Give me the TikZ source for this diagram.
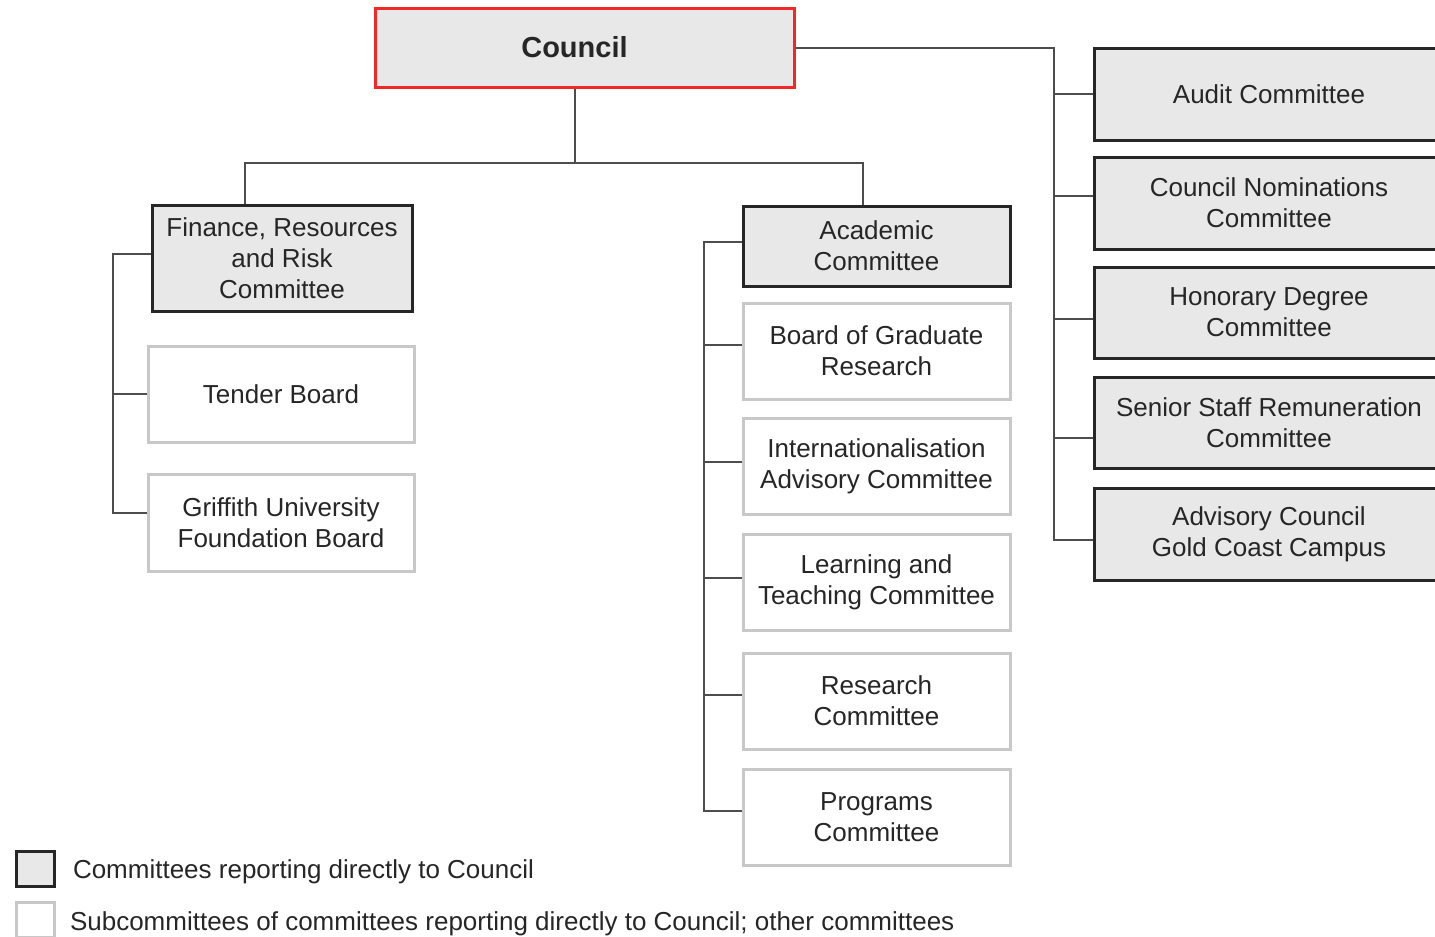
\documentclass[tikz,border=0pt]{standalone}
\usepackage{fontspec}
\setmainfont{Liberation Sans}
\definecolor{boxgray}{HTML}{E8E8E8}
\definecolor{councilred}{HTML}{F02828}
\definecolor{darkedge}{HTML}{262626}
\definecolor{lightedge}{HTML}{C8C8C8}
\definecolor{linegray}{HTML}{4D4D4D}
\begin{document}
\begin{tikzpicture}[x=1pt, y=-1pt, every node/.style = {shape=rectangle, align=center, text=black!85, font=\fontsize{26}{31}\selectfont}, line width=2pt]
	\tikzstyle{topbox} = [draw=councilred, fill=boxgray, line width=3pt, minimum width=419pt, minimum height=79pt, font=\fontsize{29}{34}\selectfont\bfseries]
	\tikzstyle{mainbox} = [draw=darkedge, fill=boxgray, line width=3pt]
	\tikzstyle{subbox} = [draw=lightedge, fill=white, line width=3pt, minimum width=266pt, minimum height=96pt]
	\tikzstyle{conn} = [draw=linegray, line width=2pt]
	\tikzstyle{keytext} = [anchor=west, inner sep=0pt]
	\useasboundingbox (0,0) rectangle (1435,937);
	\clip (0,0) rectangle (1435,937);
	\node[topbox] (council) at (584.5,47.5) {\hspace*{-20pt}Council};
	% left branch
	\node[mainbox, minimum width=260pt, minimum height=106pt] (fin) at (282,258) {Finance, Resources\\and Risk\\Committee};
	\node[subbox] (tender) at (281,394) {Tender Board};
	\node[subbox, minimum height=97pt] (grif) at (281,522.5) {Griffith University\\Foundation Board};
	% middle branch
	\node[mainbox, minimum width=267pt, minimum height=80pt] (acad) at (876.5,246) {Academic\\Committee};
	\node[subbox, minimum width=267pt] (grad) at (876.5,351) {Board of Graduate\\Research};
	\node[subbox, minimum width=267pt] (intl) at (876.5,466) {Internationalisation\\Advisory Committee};
	\node[subbox, minimum width=267pt] (learn) at (876.5,582) {Learning and\\Teaching Committee};
	\node[subbox, minimum width=267pt] (res) at (876.5,701) {Research\\Committee};
	\node[subbox, minimum width=267pt] (prog) at (876.5,817) {Programs\\Committee};
	% right branch
	\node[mainbox, minimum width=350pt, minimum height=92pt] (audit) at (1269,94) {Audit Committee};
	\node[mainbox, minimum width=350pt, minimum height=92pt] (nom) at (1269,203) {Council Nominations\\Committee};
	\node[mainbox, minimum width=350pt, minimum height=91pt] (hon) at (1269,312.5) {Honorary Degree\\Committee};
	\node[mainbox, minimum width=350pt, minimum height=91pt] (senior) at (1269,422.5) {Senior Staff Remuneration\\Committee};
	\node[mainbox, minimum width=350pt, minimum height=92pt] (adv) at (1269,534) {Advisory Council\\Gold Coast Campus};
	% legend
	\node[mainbox, minimum width=38pt, minimum height=35pt, inner sep=0pt] (keydir) at (35,869) {};
	\node[keytext] (keydirtext) at (72,872) {Committees reporting directly to Council};
	\node[subbox, minimum width=38pt, minimum height=35pt, inner sep=0pt] (keysub) at (35,920) {};
	\node[keytext] (keysubtext) at (69,924) {Subcommittees of committees reporting directly to Council; other committees};
	% connectors
	\coordinate (cbar) at (575,163);
	\coordinate (ltrunk) at (113,0);
	\coordinate (mtrunk) at (704,0);
	\coordinate (rtrunk) at (1054,0);
	\draw[conn] ([xshift=-9.5pt]council.south) -- (cbar);
	\draw[conn] ([xshift=-37pt]fin.north) |- (cbar) -| ([xshift=-13.5pt]acad.north);
	\draw[conn] ([yshift=4pt]fin.west) -- ([yshift=4pt]fin.west -| ltrunk) |- ([yshift=10pt]grif.west);
	\draw[conn] (tender.west) -- (tender.west -| ltrunk);
	\draw[conn] ([yshift=4pt]acad.west) -- ([yshift=4pt]acad.west -| mtrunk) |- ([yshift=6pt]prog.west);
	\draw[conn] ([yshift=6pt]grad.west) -- ([yshift=6pt]grad.west -| mtrunk);
	\draw[conn] ([yshift=4pt]intl.west) -- ([yshift=4pt]intl.west -| mtrunk);
	\draw[conn] ([yshift=4pt]learn.west) -- ([yshift=4pt]learn.west -| mtrunk);
	\draw[conn] ([yshift=6pt]res.west) -- ([yshift=6pt]res.west -| mtrunk);
	\draw[conn] (council.east) -- (council.east -| rtrunk) |- ([yshift=-6pt]adv.west);
	\draw[conn] (audit.west) -- (audit.west -| rtrunk);
	\draw[conn] ([yshift=7pt]nom.west) -- ([yshift=7pt]nom.west -| rtrunk);
	\draw[conn] ([yshift=-6.5pt]hon.west) -- ([yshift=-6.5pt]hon.west -| rtrunk);
	\draw[conn] ([yshift=-15.5pt]senior.west) -- ([yshift=-15.5pt]senior.west -| rtrunk);
\end{tikzpicture}
\end{document}
